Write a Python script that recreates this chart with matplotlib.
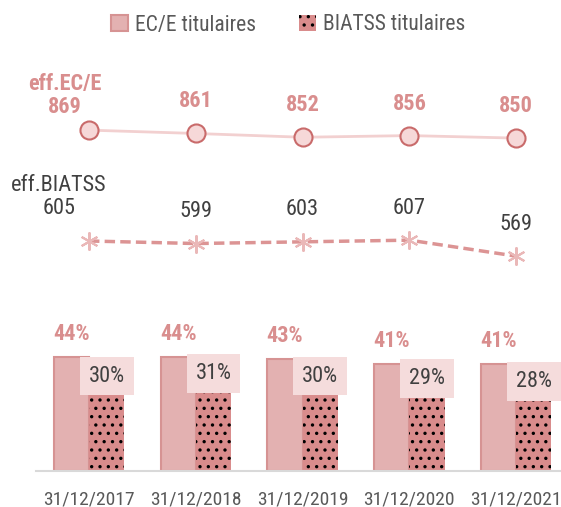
import matplotlib.pyplot as plt
import numpy as np

plt.rcParams['font.family'] = ['Roboto Condensed', 'DejaVu Sans']
plt.rcParams['hatch.color'] = 'black'
plt.rcParams['hatch.linewidth'] = 1.2

dates = ['31/12/2017', '31/12/2018', '31/12/2019', '31/12/2020', '31/12/2021']
pct_ece = [44, 44, 43, 41, 41]          # part EC/E titulaires (%)
pct_biatss = [30, 31, 30, 29, 28]       # part BIATSS titulaires (%)
eff_ece = [869, 861, 852, 856, 850]     # effectifs EC/E
eff_biatss = [605, 599, 603, 607, 569]  # effectifs BIATSS

c_ece = '#e3b1b1'
c_ece_edge = '#d69393'
c_biatss = '#d98c8c'
c_pink_txt = '#d98e8e'
c_dark = '#404040'
fs = 16

fig = plt.figure(figsize=(5.61, 5.07), dpi=100)
ax = fig.add_axes([36/561, 1 - 471/507, 1 - 36/561, 411/507])
x = np.arange(len(dates))
w = 0.33

b1 = ax.bar(x - w/2, pct_ece, w, color=c_ece, edgecolor=c_ece_edge, linewidth=1.5,
            label='EC/E titulaires', zorder=2)
b2 = ax.bar(x + w/2, pct_biatss, w, color=c_biatss, hatch='..', linewidth=0,
            label='BIATSS titulaires', zorder=2)

for xi, v in zip(x, pct_ece):
    ax.annotate(f'{v}%', (xi - w/2, v), xytext=(0, 23), textcoords='offset pixels',
                ha='center', va='center', fontsize=fs, fontweight='bold', color=c_pink_txt)
for xi, v in zip(x, pct_biatss):
    ax.annotate(f'{v}%', (xi + w/2, v), xytext=(0, 17), textcoords='offset pixels',
                ha='center', va='center', fontsize=fs, color=c_dark,
                bbox=dict(boxstyle='square,pad=0.4', fc='#f5dcdc', ec='none'))

ax.set_xlim(-0.4965, 4.42)
ax.set_ylim(0, 411/2.6)
ax.set_xticks(x)
ax.set_xticklabels(dates, fontsize=14, color='#595959')
ax.tick_params(axis='x', length=0, pad=14)
ax.set_yticks([])
for s in ['top', 'right', 'left']:
    ax.spines[s].set_visible(False)
ax.spines['bottom'].set_color('#d9d9d9')
ax.spines['bottom'].set_linewidth(1.5)

# effectifs on a twin axis
ax2 = ax.twinx()
ax2.set_ylim(605 - 230/0.42, 605 + 181/0.42)
ax2.set_axis_off()
ax2.plot(x, eff_ece, color='#f2d0d0', lw=2, marker='o', ms=13,
         mfc='#f6d8d8', mec='#c96b6b', mew=1.5, zorder=3)
ax2.plot(x, eff_biatss, color='#dc9494', lw=2.5, ls=(0, (3, 1.5)), marker=(6, 2, 0),
         ms=13, mec='#eab8b8', mew=1.5, zorder=3)

for i, v in enumerate(eff_ece):
    if i == 0:
        ax2.annotate(f'eff.EC/E\n{v}', (x[i], v), xytext=(-24, 35), textcoords='offset pixels',
                     ha='center', va='center', fontsize=fs, fontweight='bold',
                     color=c_pink_txt, linespacing=1.05)
    else:
        ax2.annotate(f'{v}', (x[i], v), xytext=(0, 32), textcoords='offset pixels',
                     ha='center', va='center', fontsize=fs, fontweight='bold', color=c_pink_txt)
for i, v in enumerate(eff_biatss):
    if i == 0:
        ax2.annotate(f'eff.BIATSS\n{v}', (x[i], v), xytext=(-30, 44), textcoords='offset pixels',
                     ha='center', va='center', fontsize=fs, color=c_dark, linespacing=1.15)
    else:
        ax2.annotate(f'{v}', (x[i], v), xytext=(0, 32), textcoords='offset pixels',
                     ha='center', va='center', fontsize=fs, color=c_dark)

fig.legend(handles=[b1, b2], loc='center', bbox_to_anchor=(288/561, 1 - 25/507),
           ncol=2, frameon=False, fontsize=15.5, handlelength=0.8, handleheight=0.8,
           handletextpad=0.3, columnspacing=2.0, labelcolor='#595959')

fig.savefig('out.png', dpi=100)
